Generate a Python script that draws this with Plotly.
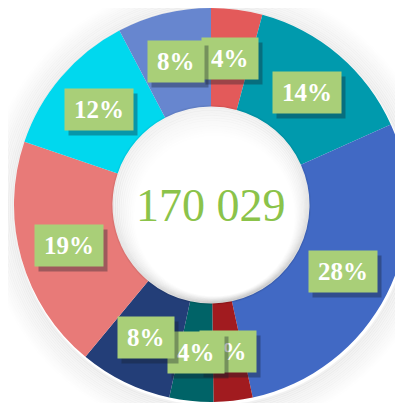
import math
import plotly.graph_objects as go

categories = ["A", "B", "C", "D", "E", "F", "G", "H", "I"]
values = [7141, 23974, 48118, 5441, 6121, 12922, 32646, 20574, 13092]
colors = ["#E35A5A", "#009AAD", "#4169C4", "#A11B1F", "#006367",
          "#233E78", "#E87A78", "#00D8EE", "#6786CF"]

total = sum(values)
labels_txt = [f"{round(v / total * 100)}%" for v in values]
center_txt = f"{total:,}".replace(",", " ")

HOLE = 0.5
fig = go.Figure()
fig.add_trace(go.Pie(
    labels=categories, values=values, hole=HOLE, sort=False,
    direction="clockwise", rotation=0, textinfo="none",
    marker=dict(colors=colors, line=dict(width=0)),
    domain=dict(x=[0, 1], y=[0, 1]), showlegend=False, hoverinfo="label+value+percent",
))

shapes = []
# soft outer shadow (rings)
for k in range(1, 16):
    r = 0.5 + k * 0.005
    shapes.append(dict(type="circle", xref="paper", yref="paper", layer="below",
                       x0=0.5 - r + 0.003, x1=0.5 + r + 0.003, y0=0.5 - r - 0.006, y1=0.5 + r - 0.006,
                       fillcolor="rgba(0,0,0,0)",
                       line=dict(color=f"rgba(0,0,0,{0.06 * (1 - k / 16):.3f})", width=2.5)))
# inner hole shading
for k in range(12):
    r = HOLE * 0.5 - k * 0.004
    shapes.append(dict(type="circle", xref="paper", yref="paper", layer="above",
                       x0=0.5 - r + k * 0.0008, x1=0.5 + r + k * 0.0008,
                       y0=0.5 - r - k * 0.0025, y1=0.5 + r - k * 0.0025,
                       fillcolor="rgba(0,0,0,0)",
                       line=dict(color=f"rgba(0,0,0,{0.05 * (1 - k / 12):.3f})", width=3)))

annotations = [dict(text=center_txt, x=0.5, y=0.5, xref="paper", yref="paper",
                    xanchor="center", yanchor="middle", showarrow=False,
                    font=dict(family="Liberation Serif", size=46, color="#8BC34A"))]

cum = 0
rmid = (0.5 + HOLE * 0.5) / 2
for v, t in zip(values, labels_txt):
    ang = (cum + v / 2) / total * 2 * math.pi
    cum += v
    x = 0.5 + rmid * math.sin(ang)
    y = 0.5 + rmid * math.cos(ang)
    annotations.append(dict(text=f"<b>{t}</b>", x=x, y=y, xref="paper", yref="paper", showarrow=False,
                            xanchor="center", yanchor="middle",
                            xshift=4, yshift=-5, bgcolor="rgba(20,30,40,0.35)",
                            font=dict(family="Liberation Serif", size=25, color="rgba(0,0,0,0)"),
                            height=23, borderpad=9))
    annotations.append(dict(text=f"<b>{t}</b>", x=x, y=y, xref="paper", yref="paper", showarrow=False,
                            xanchor="center", yanchor="middle",
                            bgcolor="#A9CF78",
                            font=dict(family="Liberation Serif", size=25, color="white"),
                            height=23, borderpad=9))

fig.update_layout(width=403, height=403, margin=dict(l=6, r=3, t=0, b=9),
                  paper_bgcolor="white", plot_bgcolor="white",
                  shapes=shapes, annotations=annotations)
fig.write_html("out.html")
